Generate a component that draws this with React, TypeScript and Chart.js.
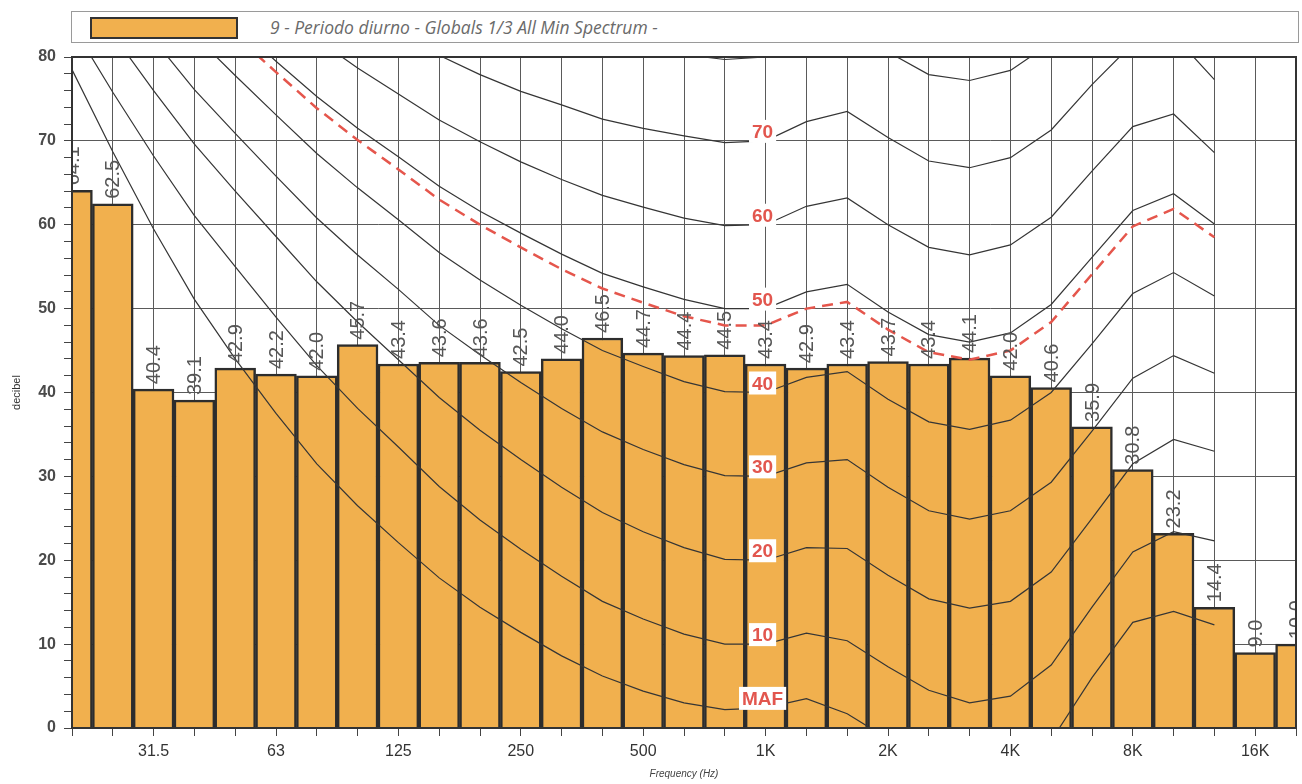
import React, { useEffect, useRef } from 'react';
import { Chart, registerables } from 'chart.js';

Chart.register(...registerables);

const FREQUENCIES = ['20', '25', '31.5', '40', '50', '63', '80', '100', '125', '160', '200', '250', '315', '400', '500', '630', '800', '1K', '1.25K', '1.6K', '2K', '2.5K', '3.15K', '4K', '5K', '6.3K', '8K', '10K', '12.5K', '16K', '20K'];
const TICK_LABELS = ['31.5', '63', '125', '250', '500', '1K', '2K', '4K', '8K', '16K'];
const Y_TICKS_MAJOR = [0, 10, 20, 30, 40, 50, 60, 70, 80];

const LEVELS = [64.1, 62.5, 40.4, 39.1, 42.9, 42.2, 42.0, 45.7, 43.4, 43.6, 43.6, 42.5, 44.0, 46.5, 44.7, 44.4, 44.5, 43.4, 42.9, 43.4, 43.7, 43.4, 44.1, 42.0, 40.6, 35.9, 30.8, 23.2, 14.4, 9.0, 10.0];

// contour curves, 20 Hz .. 12.5 kHz
const MAF = [78.5, 68.7, 59.5, 51.1, 44.0, 37.5, 31.5, 26.5, 22.1, 17.9, 14.4, 11.4, 8.6, 6.2, 4.4, 3.0, 2.2, 2.4, 3.5, 1.7, -1.3, -4.2, -6.0, -5.4, -1.5, 6.0, 12.6, 13.9, 12.3];
const PHON10 = [83.8, 75.8, 68.2, 61.1, 55.0, 49.0, 43.2, 38.1, 33.5, 28.8, 24.8, 21.3, 18.1, 15.1, 13.0, 11.2, 10.0, 10.0, 11.3, 10.4, 7.3, 4.5, 3.0, 3.8, 7.5, 14.4, 21.0, 23.4, 22.3];
const PHON20 = [89.6, 82.7, 76.0, 69.6, 64.0, 58.6, 53.2, 48.4, 43.9, 39.4, 35.5, 32.0, 28.7, 25.7, 23.4, 21.5, 20.1, 20.0, 21.5, 21.4, 18.2, 15.4, 14.3, 15.1, 18.6, 25.0, 31.5, 34.4, 33.0];
const PHON30 = [94.7, 88.3, 82.1, 76.1, 70.9, 65.8, 60.8, 56.4, 52.3, 48.0, 44.5, 41.2, 38.1, 35.3, 33.2, 31.4, 30.1, 30.0, 31.6, 32.0, 28.7, 25.9, 24.9, 25.9, 29.3, 35.4, 41.7, 44.4, 42.3];
const PHON40 = [99.9, 93.9, 88.2, 82.6, 77.8, 73.1, 68.5, 64.4, 60.6, 56.7, 53.4, 50.4, 47.6, 45.0, 43.1, 41.3, 40.1, 40.0, 41.8, 42.5, 39.2, 36.5, 35.6, 36.7, 40.0, 45.8, 51.8, 54.3, 51.5];
const PHON50 = [104.7, 99.1, 93.6, 88.4, 83.9, 79.5, 75.3, 71.5, 68.1, 64.6, 61.6, 59.0, 56.5, 54.2, 52.6, 51.1, 50.0, 50.0, 52.0, 52.9, 49.6, 46.9, 46.0, 47.1, 50.5, 56.1, 61.7, 63.7, 60.1];
const PHON60 = [109.5, 104.2, 99.1, 94.2, 90.0, 85.9, 82.1, 78.7, 75.6, 72.5, 69.9, 67.5, 65.4, 63.5, 62.1, 60.8, 59.9, 60.0, 62.2, 63.2, 60.0, 57.3, 56.4, 57.6, 60.9, 66.4, 71.7, 73.2, 68.6];
const PHON70 = [114.3, 109.4, 104.5, 100.0, 96.0, 92.4, 88.8, 85.8, 83.0, 80.2, 77.9, 75.9, 74.3, 72.6, 71.5, 70.6, 69.8, 70.0, 72.3, 73.5, 70.4, 67.6, 66.8, 68.0, 71.3, 76.7, 81.6, 82.6, 77.3];
const PHON80 = [119.0, 114.5, 109.8, 105.6, 101.9, 98.7, 95.3, 92.7, 90.3, 88.1, 86.2, 84.6, 83.2, 82.0, 81.0, 80.3, 79.7, 80.0, 82.4, 83.8, 80.6, 77.9, 77.2, 78.4, 81.7, 86.8, 91.4, 92.0, 85.8];
const DASHED = [103.7, 98.1, 92.5, 87.2, 82.6, 78.2, 73.9, 70.1, 66.6, 63.0, 60.0, 57.3, 54.7, 52.4, 50.7, 49.1, 48.0, 48.0, 50.0, 50.8, 47.5, 44.8, 43.9, 45.0, 48.4, 54.1, 59.8, 61.9, 58.5];

const LABELED_CURVES = [PHON70, PHON60, PHON50, PHON40, PHON30, PHON20, PHON10, MAF];
const CURVE_NAMES = ['70', '60', '50', '40', '30', '20', '10', 'MAF'];

const LEGEND_TEXT = '9 - Periodo diurno - Globals 1/3 All Min Spectrum -';
const BAR_FILL = '#f1b04e';
const FONT = '"Liberation Sans", Arial, sans-serif';

const overlayPlugin = {
  id: 'overlay',
  afterDatasetsDraw(chart: any) {
    const { ctx, chartArea: a, scales } = chart;
    const xs = scales.x;
    const ys = scales.y;
    ctx.save();
    ctx.beginPath();
    ctx.rect(a.left, a.top, a.right - a.left, a.bottom - a.top);
    ctx.clip();

    // bar values
    ctx.font = '20px ' + FONT;
    ctx.fillStyle = '#565656';
    ctx.textAlign = 'left';
    ctx.textBaseline = 'middle';
    LEVELS.forEach((v, i) => {
      const px = xs.getPixelForValue(i);
      const py = ys.getPixelForValue(v);
      ctx.save();
      ctx.translate(px + 1, py - 5);
      ctx.rotate(-Math.PI / 2);
      ctx.fillText(v.toFixed(1), 0, 0);
      ctx.restore();
    });

    // contour labels at 1 kHz
    const xi = FREQUENCIES.indexOf('1K');
    const lx = xs.getPixelForValue(xi) - 3;
    ctx.font = 'bold 19px ' + FONT;
    ctx.textAlign = 'center';
    ctx.textBaseline = 'alphabetic';
    CURVE_NAMES.forEach((name, k) => {
      const val = LABELED_CURVES[k][xi];
      const base = ys.getPixelForValue(val) - 3;
      const w = ctx.measureText(name).width + 6;
      ctx.fillStyle = '#ffffff';
      ctx.fillRect(lx - w / 2, base - 18, w, 23);
      ctx.fillStyle = '#e2564e';
      ctx.fillText(name, lx, base);
    });
    ctx.restore();

    ctx.save();
    ctx.strokeStyle = '#333333';
    ctx.lineWidth = 2;
    ctx.strokeRect(a.left, a.top, a.right - a.left, a.bottom - a.top);
    ctx.restore();
  },
};

function curve(data: number[], extra: any = {}) {
  return {
    type: 'line',
    data: [...data, null, null],
    borderColor: '#353535',
    borderWidth: 1.2,
    pointRadius: 0,
    tension: 0,
    fill: false,
    order: 0,
    clip: 0,
    spanGaps: false,
    ...extra,
  };
}

export default function App() {
  const ref = useRef<HTMLCanvasElement | null>(null);

  useEffect(() => {
    if (!ref.current) return;
    const chart = new Chart(ref.current, {
      type: 'bar',
      data: {
        labels: FREQUENCIES,
        datasets: [
          curve(DASHED, { borderColor: '#e5564c', borderWidth: 2.5, borderDash: [11, 7] }),
          curve(MAF),
          curve(PHON10),
          curve(PHON20),
          curve(PHON30),
          curve(PHON40),
          curve(PHON50),
          curve(PHON60),
          curve(PHON70),
          curve(PHON80),
          {
            type: 'bar',
            data: LEVELS,
            backgroundColor: BAR_FILL,
            borderColor: '#2d2d2d',
            borderWidth: 2.5,
            barPercentage: 1,
            categoryPercentage: 1,
            order: 5,
            clip: 0,
          },
        ] as any,
      },
      options: {
        animation: false,
        responsive: true,
        maintainAspectRatio: false,
        layout: { padding: { top: 57, right: 2, left: 0, bottom: 0 } },
        plugins: { legend: { display: false }, tooltip: { enabled: false } },
        scales: {
          x: {
            type: 'category',
            offset: false,
            grid: { offset: false, color: '#5a5a5a', lineWidth: 1, tickLength: 8, tickColor: '#444' },
            border: { display: true, color: '#333', width: 2 },
            ticks: {
              autoSkip: false,
              maxRotation: 0,
              minRotation: 0,
              padding: 6,
              color: '#333',
              font: { family: FONT, size: 16 },
              callback: (_v: any, idx: number) => (TICK_LABELS.includes(FREQUENCIES[idx]) ? FREQUENCIES[idx] : ''),
            },
            title: {
              display: true,
              text: 'Frequency (Hz)',
              color: '#444',
              font: { family: FONT, size: 10, style: 'italic' },
              padding: { top: 0, bottom: 4 },
            },
            afterFit: (s: any) => { s.height = 56; },
          },
          y: {
            min: 0,
            max: 80,
            ticks: {
              stepSize: 2,
              autoSkip: false,
              color: '#4a4a4a',
              padding: 8,
              font: { family: FONT, size: 16, weight: 'bold' },
              callback: (v: any) => (Y_TICKS_MAJOR.includes(Number(v)) ? String(v) : ''),
            },
            grid: {
              color: (c: any) => (c.tick && Y_TICKS_MAJOR.includes(c.tick.value) ? '#5a5a5a' : 'rgba(0,0,0,0)'),
              tickColor: '#444',
              tickLength: 8,
            },
            border: { display: true, color: '#333', width: 2 },
            title: {
              display: true,
              text: 'decibel',
              color: '#333',
              font: { family: FONT, size: 11 },
              padding: { top: 10, bottom: 0 },
            },
            afterFit: (s: any) => { s.width = 72; },
          },
        },
      } as any,
      plugins: [overlayPlugin],
    });
    return () => chart.destroy();
  }, []);

  return (
    <div style={{ position: 'fixed', left: 0, top: 0, width: 1302, height: 784, background: '#fff', overflow: 'hidden' }}>
      <div
        style={{
          position: 'absolute', left: 71, top: 11, width: 1228, height: 32,
          border: '1px solid #9a9a9a', boxSizing: 'border-box', background: '#fff',
        }}
      >
        <div
          style={{
            position: 'absolute', left: 18, top: 5, width: 148, height: 22,
            background: BAR_FILL, border: '2px solid #333', boxSizing: 'border-box',
          }}
        />
        <div
          style={{
            position: 'absolute', left: 198, top: 0, height: 30, lineHeight: '30px',
            fontFamily: '"Open Sans", "Noto Sans", sans-serif', fontStyle: 'italic', fontSize: 17.5, color: '#6a6a6a',
            whiteSpace: 'nowrap',
          }}
        >
          {LEGEND_TEXT}
        </div>
      </div>
      <div style={{ position: 'absolute', left: 0, top: 0, width: 1302, height: 784 }}>
        <canvas ref={ref} />
      </div>
    </div>
  );
}
